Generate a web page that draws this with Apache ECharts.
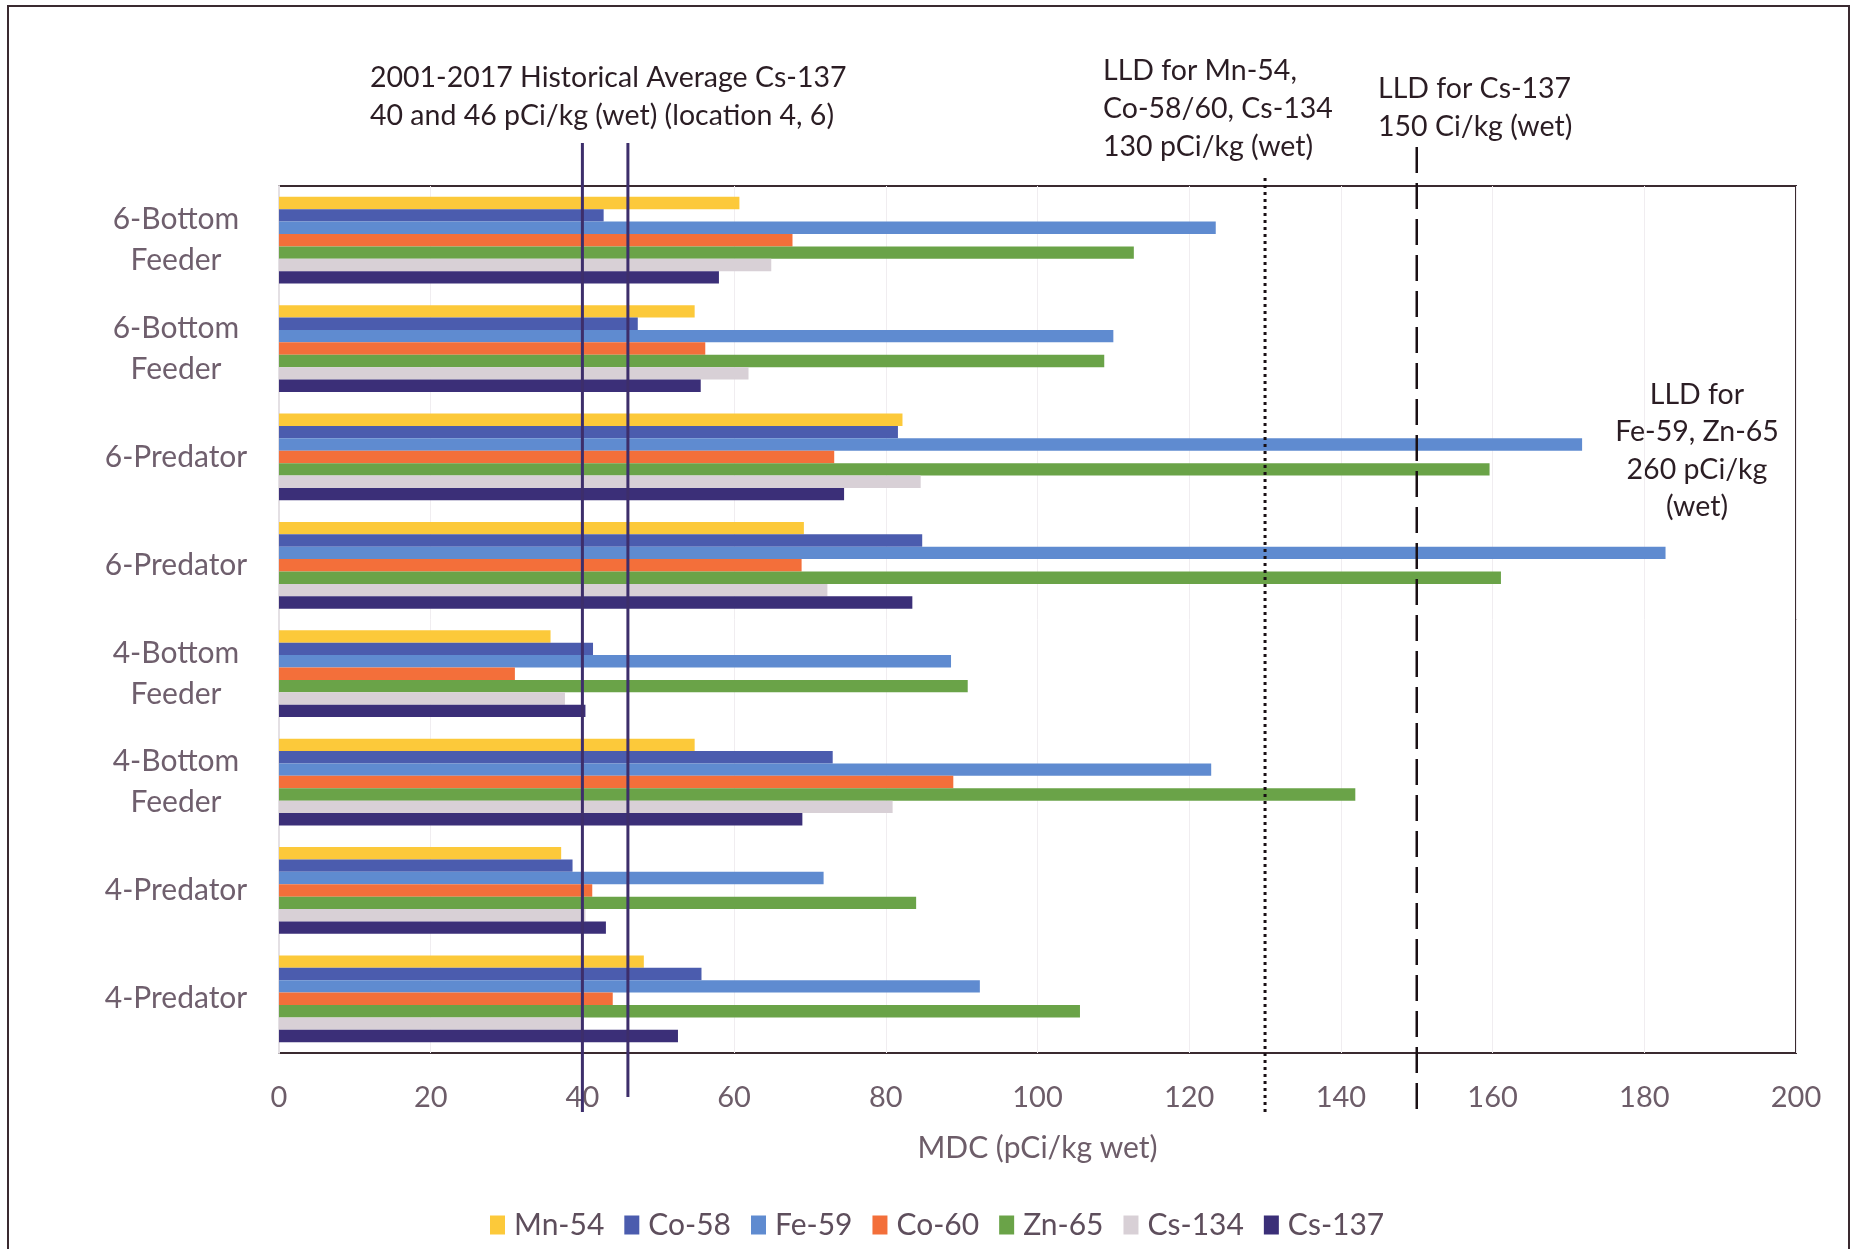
<!DOCTYPE html>
<html>
<head>
<meta charset="utf-8">
<title>MDC by sample</title>
<script src="https://cdn.jsdelivr.net/npm/echarts@6/dist/echarts.min.js"></script>
<style>
  html, body { margin: 0; padding: 0; background: #ffffff; }
  #chart { width: 1855px; height: 1249px; }
</style>
</head>
<body>
<div id="chart"></div>
<script>
// Samples, listed top to bottom
const categories = [
  '6-Bottom\nFeeder', '6-Bottom\nFeeder', '6-Predator', '6-Predator',
  '4-Bottom\nFeeder', '4-Bottom\nFeeder', '4-Predator', '4-Predator'
];

// MDC values (pCi/kg wet) per nuclide, one entry per sample
const mn54  = [60.7, 54.8, 82.2, 69.2, 35.8, 54.8, 37.2, 48.1];
const co58  = [42.8, 47.3, 81.6, 84.8, 41.4, 73.0, 38.7, 55.7];
const fe59  = [123.5, 110.0, 171.8, 182.8, 88.6, 122.9, 71.8, 92.4];
const co60  = [67.7, 56.2, 73.2, 68.9, 31.1, 88.9, 41.3, 44.0];
const zn65  = [112.7, 108.8, 159.6, 161.1, 90.8, 141.9, 84.0, 105.6];
const cs134 = [64.9, 61.9, 84.6, 72.3, 37.7, 80.9, 40.4, 40.0];
const cs137 = [58.0, 55.6, 74.5, 83.5, 40.4, 69.0, 43.1, 52.6];

const seriesNames = ['Mn-54', 'Co-58', 'Fe-59', 'Co-60', 'Zn-65', 'Cs-134', 'Cs-137'];
const seriesValues = [mn54, co58, fe59, co60, zn65, cs134, cs137];

// x-axis ticks
const xTicks = [0, 20, 40, 60, 80, 100, 120, 140, 160, 180, 200];

// Reference values: historical averages (loc 4, 6) and LLDs
const refValues = [40, 46, 130, 150];

// Drawing styles for the reference lines
const refStyles = [
  { stroke: '#3d2e6b', width: 3, dash: null, above: 43, below: 59 },
  { stroke: '#3d2e6b', width: 3, dash: null, above: 43, below: 44 },
  { stroke: '#1a1014', width: 3, dash: [3, 4], above: 8, below: 59 },
  { stroke: '#1a1014', width: 2.5, dash: [26, 10], above: 39, below: 57 }
];

const colors = ['#fcc93a', '#4b5cae', '#5f8bd0', '#f36f3a', '#6aa348', '#d8d0d6', '#3b2f78'];
const FONT = 'Lato, "Noto Sans", sans-serif';
const NOTE_COLOR = '#2b1d24';

const chart = echarts.init(document.getElementById('chart'), null, { renderer: 'canvas' });

const barSeries = seriesNames.map((name, i) => ({
  name: name,
  type: 'bar',
  data: seriesValues[i],
  barGap: '0%',
  barCategoryGap: '20%',
  itemStyle: { color: colors[i] },
  z: 2
}));

const refSeries = {
  type: 'custom',
  name: 'ref',
  clip: false,
  silent: true,
  z: 5,
  encode: { x: 0, y: 1 },
  data: refValues.map(v => [v, 0]),
  renderItem: function (params, api) {
    const x = api.coord([api.value(0), 0])[0];
    const cs = params.coordSys;
    const s = refStyles[params.dataIndex];
    return {
      type: 'line',
      shape: { x1: x, y1: cs.y - s.above, x2: x, y2: cs.y + cs.height + s.below },
      style: { stroke: s.stroke, lineWidth: s.width, lineDash: s.dash, lineCap: 'butt' }
    };
  }
};

const option = {
  backgroundColor: '#ffffff',
  animation: false,
  grid: {
    left: 279, right: 59, top: 186, bottom: 196,
    show: true, borderColor: '#3a2a30', borderWidth: 2, backgroundColor: 'transparent'
  },
  legend: {
    data: seriesNames,
    left: 485,
    top: 1205,
    icon: 'rect',
    itemWidth: 15,
    itemHeight: 19,
    itemGap: 20,
    textStyle: { fontFamily: FONT, fontSize: 30, color: '#5e4e5c', padding: [0, 0, 0, 4] }
  },
  xAxis: {
    type: 'value',
    min: 0,
    max: 200,
    interval: 20,
    name: 'MDC (pCi/kg wet)',
    nameLocation: 'middle',
    nameGap: 80,
    nameTextStyle: { fontFamily: FONT, fontSize: 30, color: '#6d5d69' },
    axisLine: { show: false },
    axisTick: { show: false },
    axisLabel: {
      fontFamily: FONT, fontSize: 29, color: '#6d5d69', margin: 30,
      formatter: v => (xTicks.indexOf(v) >= 0 ? String(v) : '')
    },
    splitLine: { show: true, lineStyle: { color: '#f0edf0', width: 1 } }
  },
  yAxis: {
    type: 'category',
    data: categories,
    inverse: true,
    axisLine: { show: true, lineStyle: { color: '#e4e0e4', width: 2 } },
    axisTick: { show: false },
    axisLabel: {
      fontFamily: FONT, fontSize: 30, lineHeight: 41, color: '#6f5f6d',
      align: 'center', margin: 103
    },
    splitLine: { show: false }
  },
  graphic: [
    {
      type: 'rect', silent: true, z: 0,
      shape: { x: 8, y: 6, width: 1841, height: 1260 },
      style: { fill: null, stroke: '#3a2a30', lineWidth: 2 }
    },
    {
      type: 'text', silent: true,
      style: {
        x: 370, y: 59, text: '2001-2017 Historical Average Cs-137\n40 and 46 pCi/kg (wet) (location 4, 6)',
        font: '28.5px ' + FONT, lineHeight: 38, fill: NOTE_COLOR, textAlign: 'left', textVerticalAlign: 'top'
      }
    },
    {
      type: 'text', silent: true,
      style: {
        x: 1103, y: 52, text: 'LLD for Mn-54,\nCo-58/60, Cs-134\n130 pCi/kg (wet)',
        font: '28.5px ' + FONT, lineHeight: 38, fill: NOTE_COLOR, textAlign: 'left', textVerticalAlign: 'top'
      }
    },
    {
      type: 'text', silent: true,
      style: {
        x: 1378, y: 70, text: 'LLD for Cs-137\n150 Ci/kg (wet)',
        font: '28.5px ' + FONT, lineHeight: 38, fill: NOTE_COLOR, textAlign: 'left', textVerticalAlign: 'top'
      }
    },
    {
      type: 'text', silent: true,
      style: {
        x: 1697, y: 376, text: 'LLD for\nFe-59, Zn-65\n260 pCi/kg\n(wet)',
        font: '28.5px ' + FONT, lineHeight: 37.5, fill: NOTE_COLOR, textAlign: 'center', textVerticalAlign: 'top'
      }
    }
  ],
  series: barSeries.concat([refSeries])
};

chart.setOption(option);
</script>
</body>
</html>
